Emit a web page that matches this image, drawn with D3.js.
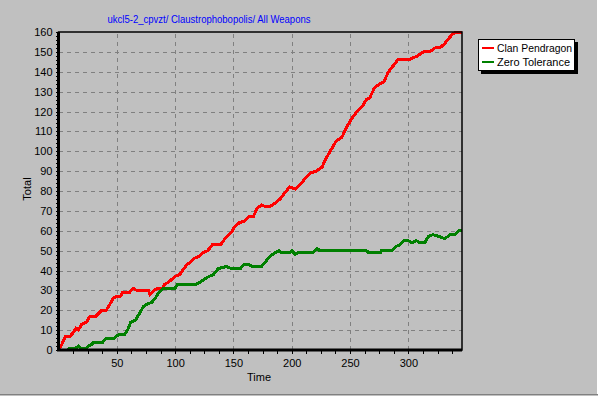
<!DOCTYPE html>
<html>
<head>
<meta charset="utf-8">
<script src="https://cdn.jsdelivr.net/npm/d3@7"></script>
<style>
  body { margin: 0; background: #c0c0c0; }
  svg { display: block; font-family: "Liberation Sans", Arial, sans-serif; }
</style>
</head>
<body>
<svg width="598" height="396"></svg>
<script>

let chartTitle = 'ukcl5-2_cpvzt/ Claustrophobopolis/ All Weapons';
let seriesNames = ['Clan Pendragon', 'Zero Tolerance'];
let seriesColors = ['#ff0000', '#008000'];

let xTicks = [50, 100, 150, 200, 250, 300];
let yTicks = [0, 10, 20, 30, 40, 50, 60, 70, 80, 90, 100, 110, 120, 130, 140, 150, 160];

let redTime = [0, 1, 3, 6, 10, 13, 15, 17, 20, 24, 27, 32, 37, 41, 44, 47, 50, 53, 55, 61, 64, 67, 77, 78.5, 82, 85, 89, 91, 94, 100, 104, 110, 113, 116, 120, 124, 128, 132, 139, 144, 148, 151, 155, 160, 163, 167, 170, 174, 178, 181, 186, 190, 194, 198, 203, 207, 211, 216, 221, 226, 229, 233, 238, 243, 247, 251, 256, 261, 264, 267, 271, 276, 279, 283, 287, 291, 297, 300, 304, 308, 313, 318, 323, 327, 331, 335, 338, 341, 346];
let redVal  = [0, 1, 3, 7, 7, 9, 11, 10, 13, 14, 17, 17, 20, 20, 23, 26, 27, 27, 29, 29, 31, 30, 30, 28, 30, 31, 31, 33, 34, 37, 38, 43, 44, 46, 47, 49, 50, 53, 53, 57, 59, 62, 64, 65, 67, 67, 71, 73, 72, 72, 74, 76, 79, 82, 81, 83, 86, 89, 90, 92, 96, 100, 105, 107, 112, 116, 120, 123, 126, 127, 132, 134, 135, 140, 143, 146, 146, 146, 147, 148, 150, 150, 152, 152, 154, 157, 159, 160, 160];

let greenTime = [0, 8, 9, 15, 17, 19, 24, 26, 29, 30, 38, 41, 48, 50, 52, 57, 60, 62, 66, 69, 73, 76, 80, 83, 86, 90, 100, 102, 118, 121, 126, 129, 133, 137, 144, 148, 156, 159, 163, 166, 174, 177, 181, 186, 189, 191, 198, 200, 203, 205, 218, 222, 224, 264, 266, 276, 277, 286, 289, 293, 296, 300, 303, 307, 310, 314, 317, 321, 327, 331, 336, 340, 343, 346];
let greenVal  = [0, 0, 1, 1, 2, 1, 1, 2, 3, 4, 4, 6, 6, 7, 8, 8, 11, 14, 15, 18, 22, 23, 24, 26, 29, 31, 31, 33, 33, 34, 36, 37, 38, 41, 42, 41, 41, 43, 43, 42, 42, 44, 47, 49, 50, 49, 49, 50, 48, 49, 49, 51, 50, 50, 49, 49, 50, 50, 52, 53, 55, 55, 54, 55, 54, 54, 57, 58, 57, 56, 58, 58, 60, 60];

drawChart();

function drawChart() {

  let svg = d3.select('svg');
  let left = 58.5, right = 462, top = 32, bottom = 350;

  let xScale = d3.scaleLinear()
                 .domain([0, 346])
                 .range([left, right]);

  let yScale = d3.scaleLinear()
                 .domain([0, 160])
                 .range([bottom, top]);

  // window edges
  svg.append('line')
     .attr('x1', 0).attr('x2', 598).attr('y1', 394.5).attr('y2', 394.5)
     .attr('stroke', '#808080');
  svg.append('line')
     .attr('x1', 597.5).attr('x2', 597.5).attr('y1', 0).attr('y2', 394)
     .attr('stroke', '#ffffff');

  // grid
  let xGrid = d3.axisBottom(xScale)
                .tickValues(xTicks)
                .tickSize(-(bottom - top))
                .tickFormat('');
  svg.append('g')
     .attr('id', 'xGridG')
     .attr('transform', 'translate(0,' + bottom + ')')
     .call(xGrid);

  let yGrid = d3.axisLeft(yScale)
                .tickValues(yTicks.slice(1, -1))
                .tickSize(-(right - left))
                .tickFormat('');
  svg.append('g')
     .attr('id', 'yGridG')
     .attr('transform', 'translate(' + left + ',0)')
     .call(yGrid);

  svg.selectAll('#xGridG .tick line, #yGridG .tick line')
     .attr('stroke', '#808080')
     .attr('stroke-dasharray', '4,4')
     .attr('shape-rendering', 'crispEdges');
  svg.selectAll('#xGridG .domain, #yGridG .domain').remove();

  // minor ticks
  let xMinor = d3.axisBottom(xScale)
                 .tickValues(d3.range(12.5, 346, 12.5))
                 .tickSize(4)
                 .tickFormat('');
  svg.append('g')
     .attr('id', 'xMinorG')
     .attr('transform', 'translate(0,' + bottom + ')')
     .call(xMinor);

  let yMinor = d3.axisLeft(yScale)
                 .tickValues(d3.range(0, 161, 2))
                 .tickSize(3)
                 .tickFormat('');
  svg.append('g')
     .attr('id', 'yMinorG')
     .attr('transform', 'translate(' + left + ',0)')
     .call(yMinor);

  svg.selectAll('#xMinorG .domain, #yMinorG .domain').remove();
  svg.selectAll('#xMinorG line, #yMinorG line')
     .attr('stroke', '#000')
     .attr('shape-rendering', 'crispEdges');

  // tick labels
  let xAxis = d3.axisBottom(xScale)
                .tickValues(xTicks)
                .tickSize(0)
                .tickPadding(9);
  svg.append('g')
     .attr('id', 'xAxisG')
     .attr('transform', 'translate(0,' + bottom + ')')
     .call(xAxis);

  let yAxis = d3.axisLeft(yScale)
                .tickValues(yTicks)
                .tickSize(0)
                .tickPadding(6);
  svg.append('g')
     .attr('id', 'yAxisG')
     .attr('transform', 'translate(' + left + ',0)')
     .call(yAxis);

  svg.selectAll('#xAxisG .domain, #yAxisG .domain').remove();
  svg.selectAll('#xAxisG text, #yAxisG text')
     .attr('fill', '#000')
     .style('font-size', '11px')
     .style('font-family', '"Liberation Sans", Arial, sans-serif');

  // series
  let series = [
    redTime.map(function(t, i) { return {t: t, v: redVal[i]}; }),
    greenTime.map(function(t, i) { return {t: t, v: greenVal[i]}; })
  ];

  let line = d3.line()
               .x(function(d) { return xScale(d.t); })
               .y(function(d) { return yScale(d.v); });

  svg.append('defs')
     .append('clipPath')
     .attr('id', 'plotClip')
     .append('rect')
     .attr('x', left).attr('y', top - 1)
     .attr('width', right - left).attr('height', bottom - top + 1);

  series.forEach(function(s, n) {
    svg.append('path')
       .attr('d', line(s))
       .attr('fill', 'none')
       .attr('stroke', seriesColors[n])
       .attr('stroke-width', 3)
       .attr('clip-path', 'url(#plotClip)')
       .attr('shape-rendering', 'crispEdges');
  });

  // plot frame
  svg.append('rect')
     .attr('x', left).attr('y', top)
     .attr('width', right - left).attr('height', bottom - top)
     .attr('fill', 'none')
     .attr('stroke', '#000')
     .attr('stroke-width', 1.5);
  svg.append('path')
     .attr('d', 'M' + left + ',' + top + 'V' + bottom + 'H' + right)
     .attr('fill', 'none')
     .attr('stroke', '#000')
     .attr('stroke-width', 3);

  // titles
  svg.append('text')
     .attr('x', 209)
     .attr('y', 23)
     .attr('text-anchor', 'middle')
     .attr('fill', '#0000ff')
     .attr('textLength', 203)
     .attr('lengthAdjust', 'spacingAndGlyphs')
     .style('font-size', '11px')
     .text(chartTitle);

  svg.append('text')
     .attr('x', 259)
     .attr('y', 381)
     .attr('text-anchor', 'middle')
     .style('font-size', '11px')
     .text('Time');

  svg.append('text')
     .attr('transform', 'translate(31,189) rotate(-90)')
     .attr('text-anchor', 'middle')
     .style('font-size', '11px')
     .text('Total');

  // legend
  let legend = svg.append('g').attr('id', 'legendG');
  legend.append('rect')
        .attr('x', 481).attr('y', 42)
        .attr('width', 97).attr('height', 32)
        .attr('fill', '#000');
  legend.append('rect')
        .attr('x', 478.5).attr('y', 39.5)
        .attr('width', 96).attr('height', 31)
        .attr('fill', '#fff')
        .attr('stroke', '#000');

  let legendWidths = [75, 73];
  seriesNames.forEach(function(name, n) {
    let y = 48 + n * 14;
    legend.append('line')
          .attr('x1', 482).attr('x2', 494)
          .attr('y1', y).attr('y2', y)
          .attr('stroke', seriesColors[n])
          .attr('stroke-width', 2);
    legend.append('text')
          .attr('x', 497)
          .attr('y', y + 4)
          .attr('textLength', legendWidths[n])
          .attr('lengthAdjust', 'spacingAndGlyphs')
          .style('font-size', '11px')
          .text(name);
  });
}
</script>
</body>
</html>
